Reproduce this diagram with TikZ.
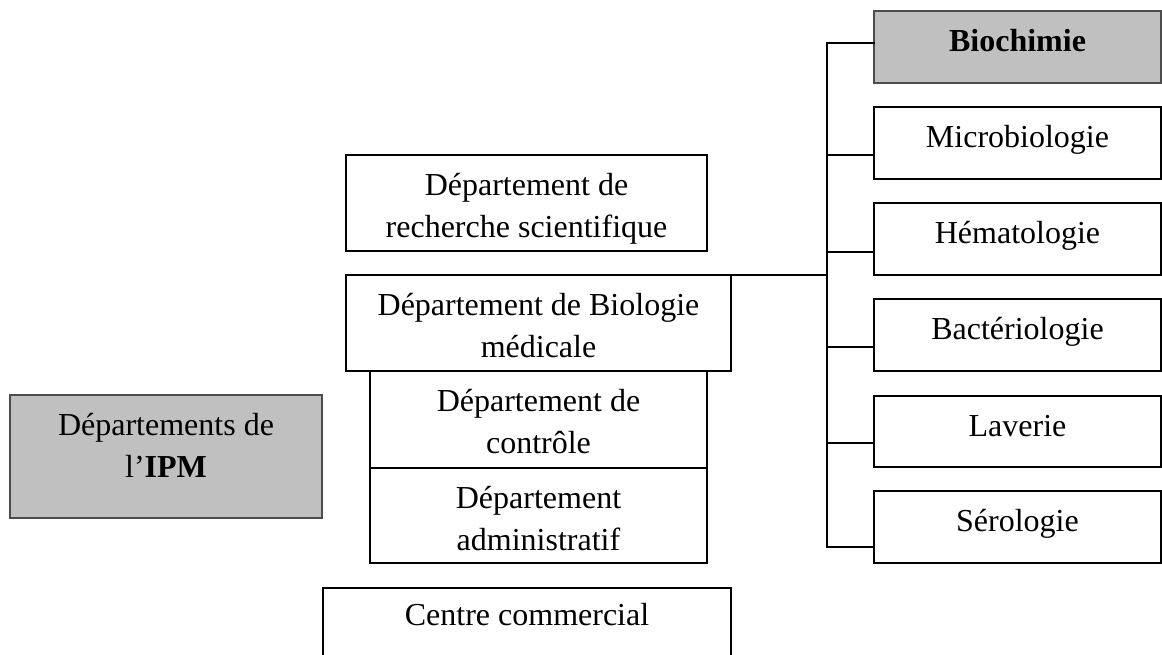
\documentclass[tikz,border=0pt]{standalone}
\usepackage{fontspec}
\setmainfont{Liberation Serif}
\definecolor{boxgray}{RGB}{192,192,192}
\begin{document}
\begin{tikzpicture}[x=0.5pt,y=-0.5pt,
  box/.style={draw=black, line width=0.9pt, rectangle, inner sep=0pt, outer sep=0pt, anchor=north west, fill=white},
  graybox/.style={box, fill=boxgray, draw=black!70},
  lbl/.style={anchor=north, inner sep=0pt, align=center, font=\fontsize{16}{21}\selectfont},
  link/.style={line width=0.9pt, line cap=rect}]
\clip (0,0) rectangle (1162,654);
\fill[white] (0,0) rectangle (1162,654);
% left column
\node[graybox, minimum width=156pt, minimum height=61.5pt] (ipm) at (10,395) {};
\node[box, minimum width=180.5pt, minimum height=48pt] (rech) at (346,155) {};
\node[box, minimum width=192.5pt, minimum height=48pt] (bio) at (346,275) {};
\node[box, minimum width=168.5pt, minimum height=48.5pt] (ctrl) at (370,371) {};
\node[box, minimum width=168.5pt, minimum height=47.5pt] (adm) at (370,468) {};
\node[box, minimum width=204pt, minimum height=46pt] (cc) at (323,588) {};
% right column
\node[graybox, minimum width=143.5pt, minimum height=36pt] (biochim) at (874,11) {};
\node[box, minimum width=143.5pt, minimum height=36pt] (micro) at (874,107) {};
\node[box, minimum width=143.5pt, minimum height=36pt] (hema) at (874,203) {};
\node[box, minimum width=143.5pt, minimum height=36pt] (bact) at (874,299) {};
\node[box, minimum width=143.5pt, minimum height=35.5pt] (lav) at (874,396) {};
\node[box, minimum width=143.5pt, minimum height=36pt] (sero) at (874,491) {};
% labels
\node[lbl] (tipm) at ([yshift=-5.3pt]ipm.north) {\strut Départements de\\ l’\textbf{IPM}};
\node[lbl] (trech) at ([yshift=-5.3pt]rech.north) {\strut Département de\\ recherche scientifique};
\node[lbl] (tbio) at ([yshift=-5.3pt]bio.north) {\strut Département de Biologie\\ médicale};
\node[lbl] (tctrl) at ([yshift=-5.3pt]ctrl.north) {\strut Département de\\ contrôle};
\node[lbl] (tadm) at ([yshift=-5.3pt]adm.north) {\strut Département\\ administratif};
\node[lbl] (tcc) at ([yshift=-3.8pt]cc.north) {\strut Centre commercial};
\node[lbl] (tbiochim) at ([yshift=-5.3pt]biochim.north) {\strut\textbf{Biochimie}};
\node[lbl] (tmicro) at ([yshift=-5.3pt]micro.north) {\strut Microbiologie};
\node[lbl] (thema) at ([yshift=-5.3pt]hema.north) {\strut Hématologie};
\node[lbl] (tbact) at ([yshift=-5.3pt]bact.north) {\strut Bactériologie};
\node[lbl] (tlav) at ([yshift=-5.3pt]lav.north) {\strut Laverie};
\node[lbl] (tsero) at ([yshift=-5.3pt]sero.north) {\strut Sérologie};
% connectors
\coordinate (j1) at (827,43);
\coordinate (j2) at (827,155);
\coordinate (j3) at (827,252);
\coordinate (j4) at (827,347);
\coordinate (j5) at (827,443);
\coordinate (j6) at (827,547);
\draw[link] (j1) -- (j6);
\draw[link] (bio.north east) -- (bio.north east -| j1);
\draw[link] (j1) -- (j1 -| biochim.west);
\draw[link] (j2) -- (j2 -| micro.west);
\draw[link] (j3) -- (j3 -| hema.west);
\draw[link] (j4) -- (j4 -| bact.west);
\draw[link] (j5) -- (j5 -| lav.west);
\draw[link] (j6) -- (j6 -| sero.west);
\end{tikzpicture}
\end{document}
